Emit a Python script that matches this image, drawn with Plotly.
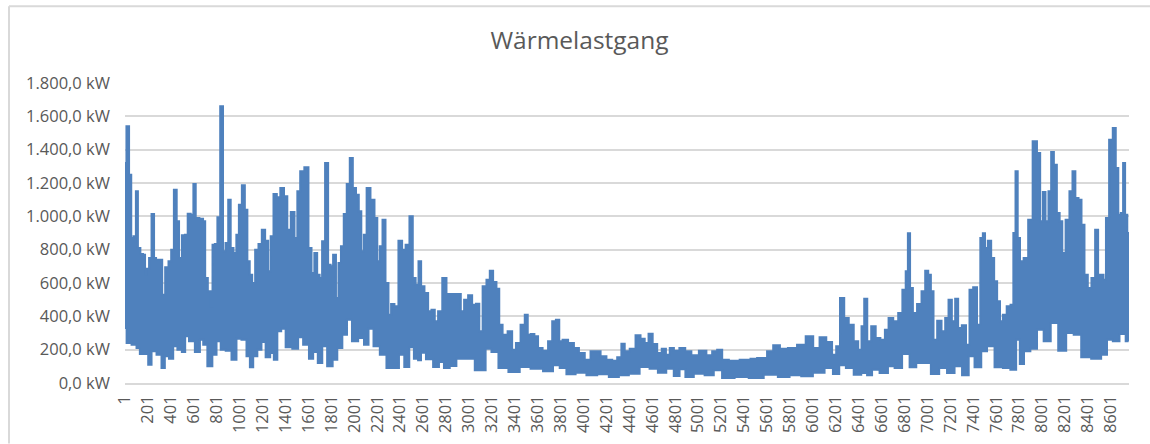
import plotly.graph_objects as go

TITLE = "Wärmelastgang"

upper_hours = [
 1,26,47,64,87,105,122,148,169,183,201,221,244,265,279,314,337,366,395,413,442,462,483,512,535,561,587,608,628,672,
 692,709,738,756,773,797,817,846,866,890,913,933,962,983,1006,1035,1058,1079,1099,1122,1151,1180,1209,1238,1262,1282,
 1311,1340,1372,1404,1430,1465,1494,1515,1544,1587,1616,1640,1666,1689,1709,1732,1761,1785,1805,1828,1855,1872,1898,
 1921,1950,1974,2003,2029,2052,2073,2096,2122,2163,2192,2212,2236,2259,2288,2311,2334,2369,2404,2433,2465,2500,2523,
 2550,2573,2596,2631,2660,2689,2718,2747,2791,2820,2878,2916,2945,2974,3015,3044,3082,3102,3140,3169,3198,3227,3256,
 3276,3314,3364,3393,3430,3474,3503,3526,3555,3590,3619,3669,3715,3741,3779,3800,3837,3896,3939,3983,4041,4084,4128,
 4172,4230,4273,4317,4346,4375,4433,4477,4520,4550,4587,4622,4666,4701,4739,4768,4811,4864,4913,4971,5044,5102,5145,
 5189,5233,5305,5422,5494,5537,5581,5624,5688,5741,5828,5900,5979,6031,6090,6148,6191,6220,6258,6293,6337,6380,6415,
 6438,6462,6491,6531,6569,6613,6648,6677,6729,6764,6802,6822,6840,6860,6889,6933,6967,6997,7020,7043,7066,7107,7142,
 7171,7200,7229,7258,7281,7322,7354,7383,7418,7450,7476,7494,7514,7543,7572,7595,7624,7645,7674,7712,7741,7761,7779,
 7799,7819,7863,7898,7941,7973,7997,8020,8043,8072,8090,8119,8142,8168,8188,8226,8255,8279,8305,8334,8357,8386,8415,
 8450,8479,8502,8526,8549,8569,8604,8633,8656,8677,8700,8717,8735,8755,
]
upper_kw = [
 1320,1540,1250,870,880,1150,810,774,770,650,686,750,1014,750,740,740,530,694,730,800,1160,970,750,886,890,1016,1010,1194,990,986,
 970,630,550,460,830,834,994,1660,790,840,1100,810,780,890,1070,1186,1040,730,650,600,800,834,920,854,670,880,
 1134,1114,1170,1120,920,1026,870,1150,1270,1294,810,660,780,650,630,850,1320,710,700,770,510,720,820,
 1014,1194,1350,1170,1130,1030,790,890,1170,1100,990,730,820,980,600,410,474,460,854,800,830,1000,630,
 590,730,580,540,430,440,370,430,630,534,534,534,430,500,526,470,476,310,580,620,674,606,566,
 350,290,310,200,240,350,410,290,294,280,210,194,250,370,380,250,260,240,210,180,140,190,190,
 160,140,134,154,236,190,206,286,266,240,296,234,180,206,170,210,194,210,190,166,194,166,190,
 200,140,134,140,146,150,150,190,226,206,210,230,280,210,274,246,170,220,510,390,350,250,200,
 340,506,250,340,270,260,320,390,370,420,560,670,898,570,420,474,550,674,650,550,260,374,310,
 390,500,370,506,330,346,230,560,574,350,870,898,810,854,750,610,490,370,410,460,470,900,1270,
 870,730,750,980,1450,1380,970,1146,970,1150,1386,1310,1020,970,780,980,1150,1270,1110,1100,950,650,570,
 630,920,650,650,620,990,1460,1530,1290,1010,1020,1320,1010,900,
]

lower_hours = [
 1,29,87,116,145,189,218,247,305,334,363,407,436,480,514,538,581,640,669,698,741,785,814,858,901,959,988,1046,1076,1105,
 1134,1177,1206,1250,1285,1314,1346,1381,1424,1497,1526,1584,1628,1657,1709,1735,1794,1831,1875,1919,1956,2006,2064,2108,
 2143,2195,2253,2311,2369,2413,2462,2500,2543,
 2573,2593,2660,2718,2762,2805,2863,2921,3009,3096,3125,3169,3227,3291,3401,3488,3590,3706,3764,3823,3881,3983,4070,4171,4273,4346,
 4447,4534,4621,4679,4767,4810,4868,4912,5014,5101,5174,5246,5392,5493,5653,5740,5857,5944,6060,
 6148,6206,6258,6322,6395,6453,6497,6540,6628,6686,6744,6817,6875,6933,6991,7072,7136,7209,7267,7340,7383,7442,7500,7543,7631,
 7689,7761,7790,7825,7863,7936,7979,8052,8102,8183,8241,8314,8372,8488,8546,8590,8648,8706,8756,
]
lower_kw = [
 330,240,230,210,174,174,110,190,170,90,160,146,220,200,186,280,250,186,260,230,100,170,250,200,194,140,266,260,160,94,
 160,200,246,154,180,140,310,326,214,206,274,230,146,186,120,220,100,140,210,290,380,250,270,230,
 326,220,170,90,90,170,96,214,146,
 136,182,142,96,126,90,102,146,146,76,76,206,186,90,66,96,86,70,106,90,52,62,46,52,36,46,
 56,96,86,62,86,42,82,36,56,46,76,30,36,30,50,36,46,40,62,
 90,54,106,90,50,60,46,80,60,100,90,174,94,120,120,54,90,60,100,46,160,94,190,220,94,
 90,80,260,114,190,206,320,250,360,194,300,290,154,146,170,260,250,294,250,
]
assert len(upper_hours) == len(upper_kw) and len(lower_hours) == len(lower_kw)

TICK_HOURS = [1 + 200 * i for i in range(44)]
Y_TICKS = [0, 200, 400, 600, 800, 1000, 1200, 1400, 1600, 1800]
Y_LABELS = ["0,0 kW", "200,0 kW", "400,0 kW", "600,0 kW", "800,0 kW", "1.000,0 kW",
            "1.200,0 kW", "1.400,0 kW", "1.600,0 kW", "1.800,0 kW"]
GRAY = "#595959"
GRID = "#D9D9D9"
BLUE = "#4F81BD"

fig = go.Figure(go.Scatter(
    x=upper_hours + lower_hours[::-1],
    y=upper_kw + lower_kw[::-1],
    mode="lines",
    fill="toself",
    fillcolor=BLUE,
    line=dict(color=BLUE, width=2, shape="hvh"),
    hoverinfo="skip",
    showlegend=False,
))

fig.update_layout(
    width=1150, height=444,
    margin=dict(l=125, r=21, t=83, b=60.5),
    paper_bgcolor="white", plot_bgcolor="white",
    font=dict(family="Open Sans", color=GRAY),
    title=dict(text=TITLE, x=579.5/1150, xanchor="center", y=1-40/444, yanchor="middle",
               font=dict(size=24.5, color=GRAY, family="Open Sans")),
)
fig.update_xaxes(
    range=[1, 8760], tickmode="array", tickvals=TICK_HOURS,
    ticktext=[str(t) for t in TICK_HOURS], tickangle=-90,
    tickfont=dict(size=16.5, color=GRAY), showgrid=False, ticklabelstandoff=4,
    showline=True, linecolor=GRID, linewidth=1.5, ticks="", zeroline=False,
)
fig.update_yaxes(
    range=[0, 1800], tickmode="array", tickvals=Y_TICKS, ticktext=Y_LABELS,
    tickfont=dict(size=16.5, color=GRAY), ticklabelstandoff=14,
    showgrid=True, gridcolor=GRID, gridwidth=1.5, zeroline=False, ticks="", showline=False,
)
plot_w = 1004
plot_h = 300.5
fig.add_shape(type="line", xref="paper", yref="paper",
              x0=-116/plot_w, x1=-116/plot_w, y0=-60.5/plot_h, y1=1+77/plot_h,
              line=dict(color=GRID, width=2))
fig.add_shape(type="line", xref="paper", yref="paper",
              x0=-116/plot_w, x1=1+21/plot_w, y0=1+77/plot_h, y1=1+77/plot_h,
              line=dict(color=GRID, width=2))
fig.write_html("out.html", config={"displayModeBar": False},
               post_script="document.body.style.margin='0';")
